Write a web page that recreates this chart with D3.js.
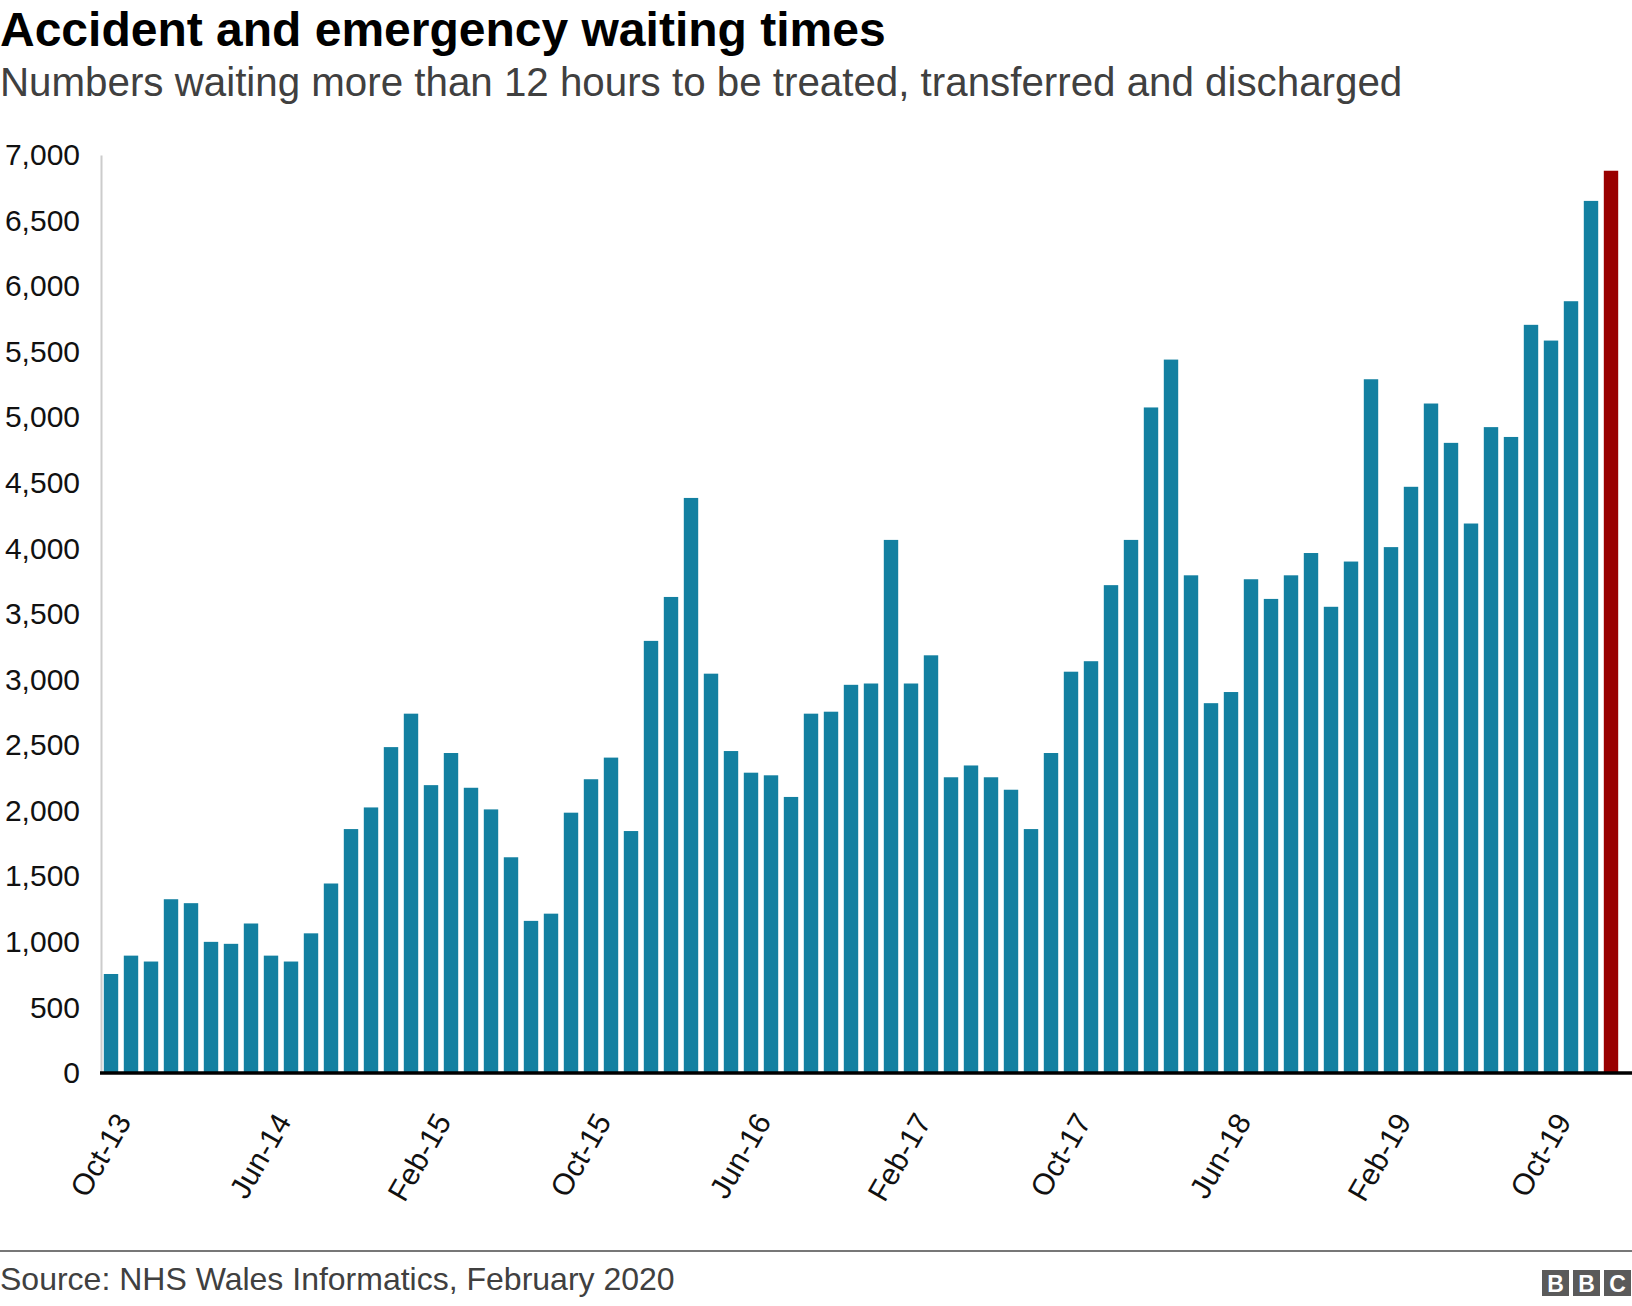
<!DOCTYPE html>
<html>
<head>
<meta charset="utf-8">
<script src="https://cdn.jsdelivr.net/npm/d3@7"></script>
<style>
  body { margin: 0; background: #fff; }
  svg { display: block; }
</style>
</head>
<body>
<svg id="chart"></svg>
<script>
// monthly data, Oct-13 to Jan-20
const months = [
  'Oct-13', 'Nov-13', 'Dec-13',
  'Jan-14', 'Feb-14', 'Mar-14', 'Apr-14', 'May-14', 'Jun-14', 'Jul-14', 'Aug-14', 'Sep-14', 'Oct-14', 'Nov-14', 'Dec-14',
  'Jan-15', 'Feb-15', 'Mar-15', 'Apr-15', 'May-15', 'Jun-15', 'Jul-15', 'Aug-15', 'Sep-15', 'Oct-15', 'Nov-15', 'Dec-15',
  'Jan-16', 'Feb-16', 'Mar-16', 'Apr-16', 'May-16', 'Jun-16', 'Jul-16', 'Aug-16', 'Sep-16', 'Oct-16', 'Nov-16', 'Dec-16',
  'Jan-17', 'Feb-17', 'Mar-17', 'Apr-17', 'May-17', 'Jun-17', 'Jul-17', 'Aug-17', 'Sep-17', 'Oct-17', 'Nov-17', 'Dec-17',
  'Jan-18', 'Feb-18', 'Mar-18', 'Apr-18', 'May-18', 'Jun-18', 'Jul-18', 'Aug-18', 'Sep-18', 'Oct-18', 'Nov-18', 'Dec-18',
  'Jan-19', 'Feb-19', 'Mar-19', 'Apr-19', 'May-19', 'Jun-19', 'Jul-19', 'Aug-19', 'Sep-19', 'Oct-19', 'Nov-19', 'Dec-19',
  'Jan-20'
];
const waiting = [
  755, 895, 850,
  1325, 1295, 1000, 985, 1140, 895, 850, 1065, 1445, 1860, 2025, 2485,
  2740, 2195, 2440, 2175, 2010, 1645, 1160, 1215, 1985, 2240, 2405, 1845,
  3295, 3630, 4385, 3045, 2455, 2290, 2270, 2105, 2740, 2755, 2960, 2970,
  4065, 2970, 3185, 2255, 2345, 2255, 2160, 1860, 2440, 3060, 3140, 3720,
  4065, 5075, 5440, 3795, 2820, 2905, 3765, 3615, 3795, 3965, 3555, 3900,
  5290, 4010, 4470, 5105, 4805, 4190, 4925, 4850, 5705, 5585, 5885, 6650,
  6880
];
const tickMonths = ['Oct-13', 'Jun-14', 'Feb-15', 'Oct-15', 'Jun-16', 'Feb-17', 'Oct-17', 'Jun-18', 'Feb-19', 'Oct-19'];
const yTicks = [0, 500, 1000, 1500, 2000, 2500, 3000, 3500, 4000, 4500, 5000, 5500, 6000, 6500, 7000];
const latestMonth = 'Jan-20';

const data = months.map((m, i) => ({ month: m, value: waiting[i] }));

// setting up svg
const w = 1632;
const h = 1306;
const svg = d3.select('#chart')
  .attr('width', w)
  .attr('height', h)
  .style('font-family', '"Liberation Sans", Arial, Helvetica, sans-serif');

// titles
svg.append('text')
  .attr('x', 0)
  .attr('y', 46)
  .attr('font-size', 48)
  .attr('font-weight', 'bold')
  .attr('fill', '#000')
  .text('Accident and emergency waiting times');
svg.append('text')
  .attr('x', 0)
  .attr('y', 96)
  .attr('font-size', 40.3)
  .attr('fill', '#404040')
  .text('Numbers waiting more than 12 hours to be treated, transferred and discharged');

// scales
const xScale = d3.scaleBand()
  .domain(months)
  .range([101, 1621])
  .paddingInner(0.28)
  .paddingOuter(0.14);
const yScale = d3.scaleLinear().domain([0, 7000]).range([1073, 155]);

// y axis, domain line is the thin grey rule on the left
const yAxis = d3.axisLeft(yScale)
  .tickValues(yTicks)
  .tickFormat(d3.format(','))
  .tickSize(0)
  .tickSizeOuter(0)
  .tickPadding(21);
const yG = svg.append('g').attr('transform', 'translate(101,0)').call(yAxis);
yG.select('.domain').attr('stroke', '#cccccc').attr('stroke-width', 2);
yG.selectAll('text')
  .attr('font-size', 30)
  .attr('font-family', '"Liberation Sans", Arial, Helvetica, sans-serif')
  .attr('fill', '#111');

// bars
svg.selectAll('.bar')
  .data(data)
  .join('rect')
  .attr('class', 'bar')
  .attr('x', (d) => xScale(d.month))
  .attr('y', (d) => yScale(d.value))
  .attr('width', xScale.bandwidth())
  .attr('height', (d) => yScale(0) - yScale(d.value))
  .attr('fill', (d) => (d.month === latestMonth ? '#990000' : '#1380a1'));

// zero line
svg.append('line')
  .attr('x1', 100)
  .attr('x2', w)
  .attr('y1', yScale(0))
  .attr('y2', yScale(0))
  .attr('stroke', '#000')
  .attr('stroke-width', 3.5);

// x axis with rotated labels
const xAxis = d3.axisBottom(xScale).tickValues(tickMonths).tickSize(0);
const xG = svg.append('g').attr('transform', `translate(0,${yScale(0)})`).call(xAxis);
xG.select('.domain').remove();
xG.selectAll('text')
  .attr('x', 0)
  .attr('y', 0)
  .attr('dy', '0.35em')
  .attr('text-anchor', 'end')
  .attr('transform', 'translate(12,43) rotate(-60)')
  .attr('font-size', 30)
  .attr('font-family', '"Liberation Sans", Arial, Helvetica, sans-serif')
  .attr('fill', '#111');

// footer
svg.append('line')
  .attr('x1', 0)
  .attr('x2', w)
  .attr('y1', 1251)
  .attr('y2', 1251)
  .attr('stroke', '#777')
  .attr('stroke-width', 2);
svg.append('text')
  .attr('x', 0)
  .attr('y', 1290)
  .attr('font-size', 32)
  .attr('fill', '#404040')
  .text('Source: NHS Wales Informatics, February 2020');

const logo = svg.append('g').attr('transform', 'translate(1542,1270)');
['B', 'B', 'C'].forEach((letter, i) => {
  logo.append('rect')
    .attr('x', i * 31)
    .attr('y', 0)
    .attr('width', 27)
    .attr('height', 26)
    .attr('fill', '#5a5a5a');
  logo.append('text')
    .attr('x', i * 31 + 13.5)
    .attr('y', 21.5)
    .attr('text-anchor', 'middle')
    .attr('font-size', 23)
    .attr('font-weight', 'bold')
    .attr('fill', '#fff')
    .text(letter);
});
</script>
</body>
</html>
